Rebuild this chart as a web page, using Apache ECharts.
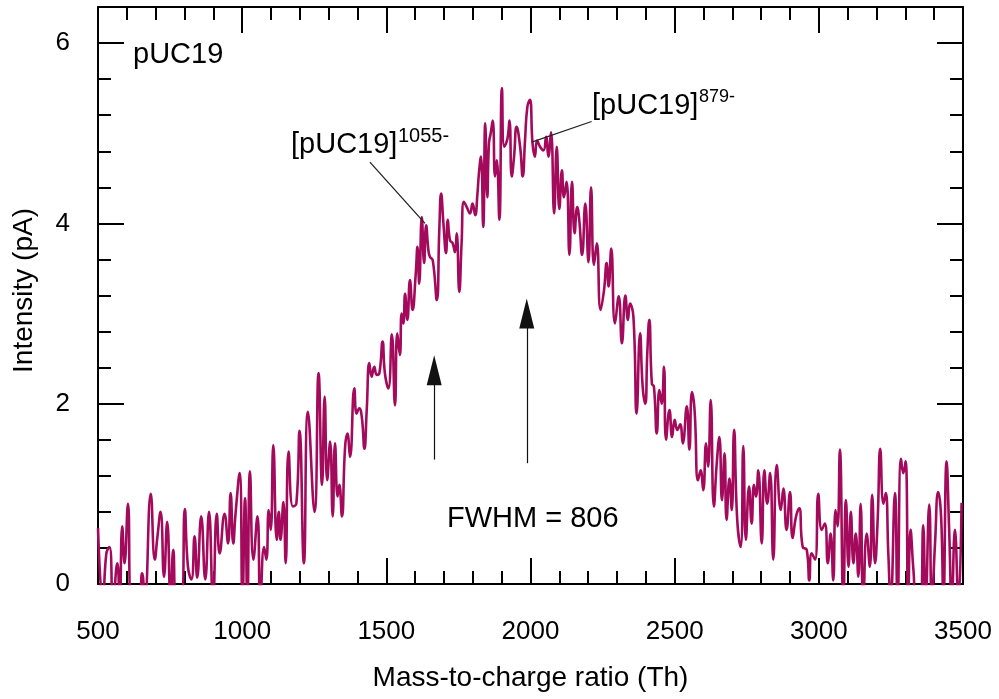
<!DOCTYPE html>
<html>
<head>
<meta charset="utf-8">
<title>pUC19 mass spectrum</title>
<script src="https://cdn.jsdelivr.net/npm/echarts@6/dist/echarts.min.js"></script>
<style>
  html, body { margin: 0; padding: 0; background: #fff; }
  #chart { width: 999px; height: 699px; }
</style>
</head>
<body>
<div id="chart"></div>
<script>
// m/z values (Th)
const mz = [
  500, 517, 529, 540, 552, 567, 575, 584, 592, 604, 616, 639, 653, 662, 683, 697, 706, 717, 729, 740,
  752, 761, 773, 789, 801, 812, 824, 835, 844, 858, 872, 885, 899, 912, 922, 939, 951, 960, 969, 977,
  991, 1001, 1010, 1018, 1027, 1039, 1053, 1063, 1076, 1084, 1092, 1099, 1108, 1120, 1127, 1133, 1143, 1151, 1161, 1176,
  1188, 1199, 1214, 1228, 1251, 1265, 1277, 1286, 1295, 1305, 1314, 1322, 1331, 1337, 1346, 1357, 1365, 1374, 1389, 1397,
  1406, 1415, 1424, 1432, 1441, 1449, 1458, 1467, 1476, 1487, 1495, 1507, 1519, 1530, 1538, 1547, 1553, 1559, 1565, 1573,
  1582, 1591, 1602, 1608, 1614, 1623, 1631, 1638, 1646, 1651, 1661, 1675, 1684, 1690, 1698, 1707, 1713, 1721, 1730, 1738,
  1744, 1753, 1761, 1769, 1779, 1790, 1799, 1808, 1816, 1821, 1828, 1836, 1843, 1850, 1856, 1862, 1869, 1877, 1883, 1892,
  1901, 1909, 1920, 1927, 1935, 1943, 1952, 1964, 1973, 1981, 1989, 1998, 2007, 2015, 2023, 2033, 2045, 2054, 2062, 2071,
  2082, 2091, 2100, 2109, 2116, 2125, 2135, 2144, 2153, 2162, 2169, 2179, 2190, 2201, 2210, 2220, 2230, 2243, 2255, 2264,
  2271, 2280, 2293, 2306, 2317, 2329, 2338, 2345, 2357, 2368, 2380, 2389, 2398, 2405, 2412, 2421, 2428, 2438, 2447, 2455,
  2463, 2470, 2482, 2491, 2500, 2509, 2519, 2528, 2542, 2551, 2560, 2569, 2581, 2590, 2599, 2609, 2616, 2625, 2636, 2646,
  2655, 2664, 2673, 2680, 2690, 2698, 2706, 2717, 2729, 2738, 2747, 2758, 2767, 2775, 2782, 2790, 2802, 2811, 2821, 2831,
  2842, 2854, 2868, 2877, 2888, 2900, 2909, 2921, 2932, 2944, 2958, 2967, 2975, 2987, 2998, 3010, 3021, 3031, 3041, 3050,
  3058, 3065, 3073, 3085, 3094, 3103, 3111, 3120, 3128, 3137, 3145, 3154, 3166, 3177, 3185, 3195, 3204, 3213, 3224, 3232,
  3241, 3249, 3264, 3273, 3285, 3293, 3301, 3310, 3318, 3328, 3339, 3351, 3362, 3370, 3383, 3392, 3403, 3414, 3424, 3432,
  3443, 3452, 3461, 3472, 3484, 3495
];

// intensity (pA), same order as mz
const intensity = [
  0.62, -0.2, 0.34, 0.41, -0.2, 0.23, -0.2, 0.64, 0.23, 0.89, -0.2, -0.2, 0.12, -0.2, 1.00, 0.27, 0.52, 0.80, 0.08, 0.69,
  -0.2, 0.38, -0.2, -0.2, 0.83, 0.19, 0.05, 0.53, 0.07, 0.75, 0.05, 0.80, -0.2, 0.78, 0.34, 0.78, 0.45, 1.01, 0.45, 0.78,
  1.23, -0.2, 0.95, -0.2, 1.25, 0.27, 0.75, -0.2, 0.41, 0.27, 0.82, 0.60, 1.54, 0.49, 0.80, 0.49, 0.91, 0.23, 1.47, 0.86,
  0.89, 1.70, 0.23, 1.91, 0.80, 2.34, 1.10, 2.08, 1.15, 1.58, 0.75, 1.56, 0.97, 1.10, 0.75, 1.52, 1.67, 1.41, 2.17, 1.89,
  1.95, 1.85, 1.50, 1.93, 2.45, 2.30, 2.41, 2.32, 2.34, 2.69, 2.34, 2.17, 2.77, 1.98, 2.78, 2.54, 3.00, 2.89, 3.22, 2.93,
  3.37, 3.04, 3.44, 3.74, 3.33, 4.07, 3.56, 3.98, 3.70, 3.63, 3.59, 3.15, 3.96, 4.33, 4.00, 3.67, 4.04, 3.81, 3.78, 3.68,
  3.89, 3.24, 3.78, 4.24, 4.18, 4.11, 4.22, 4.09, 4.33, 4.55, 4.74, 3.96, 5.11, 4.29, 4.89, 5.00, 5.14, 4.52, 4.70, 4.04,
  5.50, 4.85, 4.94, 5.14, 4.52, 4.74, 5.07, 4.85, 4.52, 4.92, 5.29, 5.37, 4.89, 4.74, 4.92, 4.85, 4.81, 4.96, 4.74, 5.01,
  4.11, 4.85, 4.16, 4.59, 4.29, 4.46, 3.65, 4.46, 3.89, 4.18, 4.04, 3.65, 4.22, 3.57, 4.40, 3.54, 3.78, 3.04, 3.26, 3.56,
  3.30, 3.72, 2.89, 3.19, 2.67, 3.20, 2.93, 3.11, 2.96, 1.89, 2.78, 2.19, 2.00, 2.56, 2.93, 2.22, 2.19, 1.67, 2.15, 2.00,
  2.41, 1.60, 1.93, 1.63, 1.82, 1.71, 1.77, 1.56, 1.97, 1.49, 2.13, 1.93, 1.15, 1.26, 1.04, 1.56, 1.30, 2.04, 0.86, 1.34,
  1.63, 0.93, 1.45, 0.71, 1.17, 0.82, 1.71, 0.71, 0.41, 1.53, 0.49, 1.08, 0.67, 1.10, 0.97, 1.26, 0.45, 1.26, 0.89, 1.23,
  0.27, 1.32, 0.82, 1.06, 0.60, 1.02, 0.51, 0.75, 0.84, 0.41, 0.38, 0.04, 0.34, 0.27, 1.00, 0.60, 0.67, 0.23, 0.56, 0.04,
  0.82, 0.64, 1.49, -0.2, 0.93, 0.19, 0.80, 0.23, 0.56, 0.08, 0.89, -0.2, 0.56, 0.19, 0.99, 0.23, 0.71, 1.50, 0.89, 1.01,
  0.34, -0.2, 1.01, -0.2, 1.39, 1.23, 1.36, -0.2, 0.60, 0.16, -0.2, -0.2, 0.65, -0.2, 0.88, -0.2, 0.45, 1.02, 0.75, -0.2,
  1.36, 0.60, -0.2, 0.60, -0.2, 0.90
];

// axis ticks
const xTicks = { min: 500, max: 3500, step: 500 };
const yTicks = { min: 0, max: 6.4, step: 2 };

// annotation anchors in data units
const leader1055 = [[1443, 4.68], [1634, 4.00]];
const leader879 = [[2212, 5.13], [2004, 4.90]];
const arrowLow = [[1666, 1.38], [1666, 2.37]];
const arrowHigh = [[1987, 1.34], [1987, 3.00]];

const font = '"Liberation Sans", Arial, Helvetica, sans-serif';
const ink = '#000';

const seriesData = mz.map((x, i) => [x, intensity[i]]);

const chart = echarts.init(document.getElementById('chart'), null, { renderer: 'canvas' });

const tickCommon = {
  axisLine: { show: true, onZero: false, lineStyle: { color: ink, width: 2 } },
  axisTick: { show: true, inside: true, length: 26, lineStyle: { color: ink, width: 2 } },
  minorTick: { show: true, splitNumber: 5, length: 13, lineStyle: { color: ink, width: 2 } },
  splitLine: { show: false },
  minorSplitLine: { show: false }
};

const lineSeg = (pts, style) => [
  { coord: pts[0], lineStyle: style },
  { coord: pts[1] }
];

const arrowSeg = (pts) => [
  { coord: pts[0], lineStyle: { color: '#111', width: 1.2, type: 'solid' } },
  { coord: pts[1], symbol: 'triangle', symbolSize: [15, 30] }
];

const option = {
  animation: false,
  backgroundColor: '#fff',
  grid: { left: 98, right: 36, top: 7, bottom: 115, containLabel: false },
  xAxis: [{
    type: 'value',
    position: 'bottom',
    min: xTicks.min,
    max: xTicks.max,
    interval: xTicks.step,
    name: 'Mass-to-charge ratio (Th)',
    nameLocation: 'middle',
    nameGap: 80,
    nameTextStyle: { fontFamily: font, fontSize: 28, color: ink },
    axisLabel: {
      margin: 35, fontFamily: font, fontSize: 26, color: ink,
      formatter: (v) => String(v)
    },
    ...tickCommon
  }, {
    type: 'value',
    position: 'top',
    min: xTicks.min,
    max: xTicks.max,
    interval: xTicks.step,
    axisLabel: { show: false },
    ...tickCommon
  }],
  yAxis: [{
    type: 'value',
    position: 'left',
    min: yTicks.min,
    max: yTicks.max,
    interval: yTicks.step,
    name: 'Intensity (pA)',
    nameLocation: 'middle',
    nameGap: 60,
    nameTextStyle: { fontFamily: font, fontSize: 28, color: ink, padding: [0, 0, 0, 10] },
    axisLabel: {
      margin: 28, fontFamily: font, fontSize: 26, color: ink,
      formatter: (v) => (v % yTicks.step === 0 ? String(v) : '')
    },
    ...tickCommon
  }, {
    type: 'value',
    position: 'right',
    min: yTicks.min,
    max: yTicks.max,
    interval: yTicks.step,
    axisLabel: { show: false },
    ...tickCommon
  }],
  series: [{
    name: 'pUC19',
    type: 'line',
    xAxisIndex: 0,
    yAxisIndex: 0,
    data: seriesData,
    showSymbol: false,
    smooth: 0.5,
    clip: true,
    lineStyle: { color: '#A30A5C', width: 2.6 },
    itemStyle: { color: '#A30A5C' },
    markLine: {
      silent: true,
      animation: false,
      symbol: 'none',
      label: { show: false },
      emphasis: { disabled: true },
      data: [
        lineSeg(leader1055, { color: '#222', width: 1.3, type: 'solid' }),
        lineSeg(leader879, { color: '#222', width: 1.3, type: 'solid' }),
        arrowSeg(arrowLow),
        arrowSeg(arrowHigh)
      ]
    }
  }],
  graphic: [
    { type: 'text', left: 133, top: 40, style: { text: 'pUC19', font: '29px ' + font, fill: ink } },
    { type: 'text', left: 291, top: 130, style: { text: '[pUC19]', font: '29px ' + font, fill: ink } },
    { type: 'text', left: 398, top: 126, style: { text: '1055-', font: '20px ' + font, fill: ink } },
    { type: 'text', left: 592, top: 91, style: { text: '[pUC19]', font: '29px ' + font, fill: ink } },
    { type: 'text', left: 699, top: 88, style: { text: '879-', font: '18px ' + font, fill: ink } },
    { type: 'text', left: 447, top: 504, style: { text: 'FWHM = 806', font: '29px ' + font, fill: ink } }
  ]
};

chart.setOption(option);
</script>
</body>
</html>
